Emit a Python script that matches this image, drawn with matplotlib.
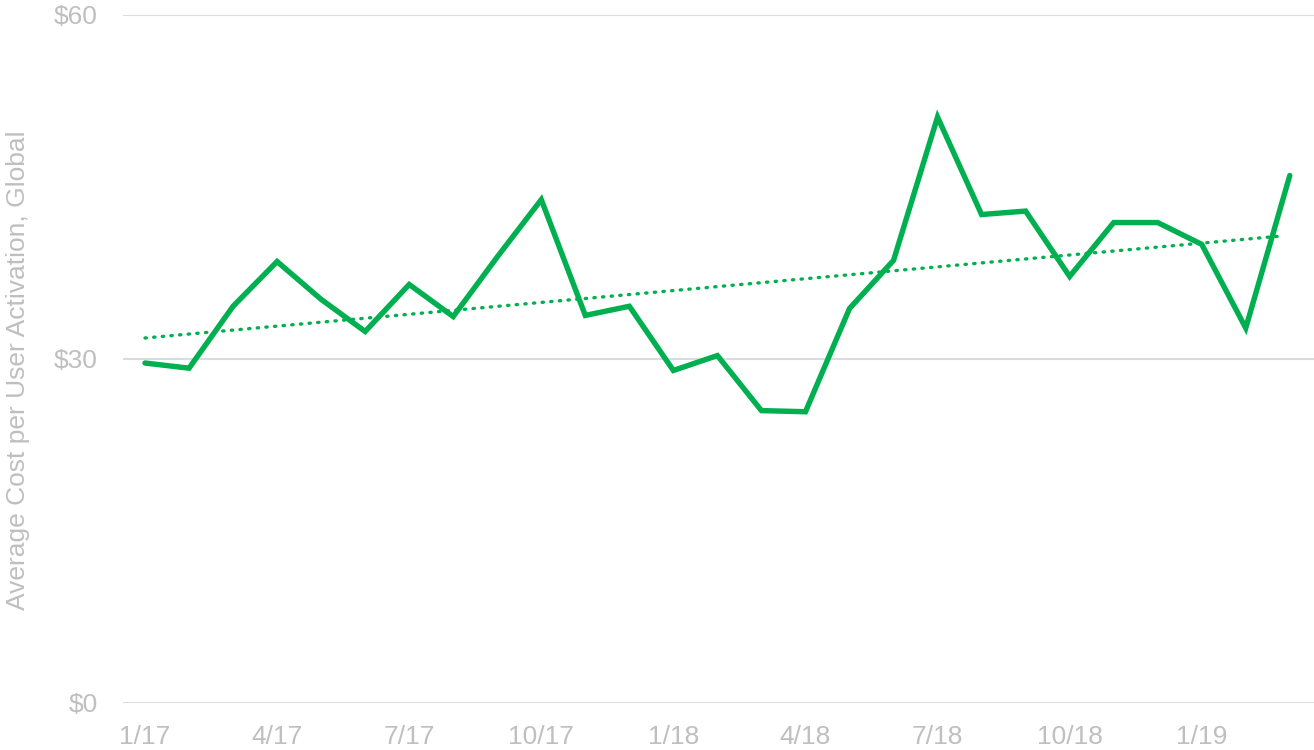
import numpy as np
import matplotlib
matplotlib.use("Agg")
import matplotlib.pyplot as plt

months = ["1/17","2/17","3/17","4/17","5/17","6/17","7/17","8/17","9/17","10/17","11/17","12/17",
          "1/18","2/18","3/18","4/18","5/18","6/18","7/18","8/18","9/18","10/18","11/18","12/18",
          "1/19","2/19","3/19"]
cost = [29.65, 29.2, 34.6, 38.5, 35.2, 32.4, 36.5, 33.7, 38.9, 43.9, 33.8, 34.6,
        29.0, 30.3, 25.5, 25.4, 34.4, 38.6, 51.1, 42.6, 42.9, 37.2, 41.9, 41.9,
        40.0, 32.7, 46.0]
y_ticks = [0, 30, 60]
y_tick_labels = ["$0", "$30", "$60"]
x_tick_step = 3

plt.rcParams['font.family'] = ['Liberation Sans', 'DejaVu Sans']
green = "#00B050"
txt = "#BFBFBF"

fig = plt.figure(figsize=(13.14, 7.5), dpi=100)
ax = fig.add_axes([123/1314, 1 - 703/750, (1314-123)/1314, (703-15)/750])

x = np.arange(len(cost))
ax.plot(x, cost, color=green, lw=3.9, solid_joinstyle='miter', solid_capstyle='round', zorder=3)

coef = np.polyfit(x, cost, 1)
xt = np.array([0, len(cost) - 1.15])
ax.plot(xt, np.polyval(coef, xt), color=green, lw=2.4, linestyle=(0, (0.4, 2.2)),
        dash_capstyle='round', zorder=2)

ax.set_ylim(0, 60)
ax.set_xlim(-0.5, 26.55)
ax.set_yticks(y_ticks)
ax.set_yticklabels(y_tick_labels)
xt_idx = list(range(0, len(months), x_tick_step))
ax.set_xticks(xt_idx)
ax.set_xticklabels([months[i] for i in xt_idx])
ax.grid(axis='y', color="#D9DDE3", lw=1.5)
ax.set_axisbelow(True)
for s in ax.spines.values():
    s.set_visible(False)
ax.tick_params(axis='both', length=0, labelcolor=txt, labelsize=19)
ax.tick_params(axis='y', pad=18)
ax.tick_params(axis='x', pad=16)
ax.set_ylabel("Average Cost per User Activation, Global", color=txt, fontsize=19)
ax.yaxis.set_label_coords(-93/1191, 0.484)
ax.set_facecolor("white")

fig.savefig("out.png", dpi=100, facecolor="white")
